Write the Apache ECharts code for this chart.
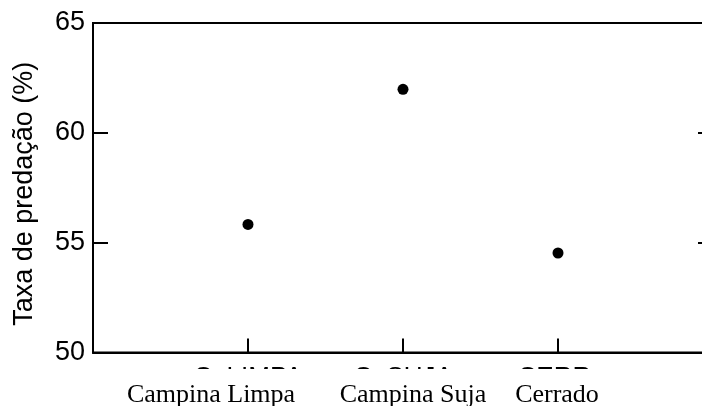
<!DOCTYPE html>
<html>
<head>
<meta charset="utf-8">
<script src="https://cdn.jsdelivr.net/npm/echarts@6/dist/echarts.min.js"></script>
<style>
  html, body { margin: 0; padding: 0; background: #fff; }
  #chart { width: 702px; height: 406px; }
</style>
</head>
<body>
<div id="chart"></div>
<script>
// Habitat categories and their x positions on the value axis
const categories = ['Campina Limpa', 'Campina Suja', 'Cerrado'];
const shortLabels = ['C. LIMPA', 'C. SUJA', 'CERR.'];
const categoryPos = [1, 2, 3];
// Predation rate (%) per habitat
const predationRate = [55.83, 61.98, 54.53];
// Y axis ticks
const yTicks = [50, 55, 60, 65];

const chart = echarts.init(document.getElementById('chart'), null, { renderer: 'canvas' });

const points = categoryPos.map((x, i) => [x, predationRate[i]]);

const tickLabel = v => {
  const i = categoryPos.indexOf(v);
  return i >= 0 ? shortLabels[i] : '';
};

const SANS = '"Liberation Sans", Arial, sans-serif';

const option = {
  animation: false,
  backgroundColor: '#ffffff',
  grid: {
    left: 93, top: 23, right: -11, bottom: 53.5,
    outerBoundsMode: 'none',
    show: true, borderColor: '#000', borderWidth: 2
  },
  xAxis: {
    type: 'value', min: 0, max: 4, interval: 1,
    axisLine: { show: true, lineStyle: { color: '#000', width: 2 } },
    axisTick: { show: true, inside: true, length: 14, lineStyle: { color: '#000', width: 2 } },
    axisLabel: {
      formatter: tickLabel, color: '#000', margin: 12,
      fontFamily: SANS, fontSize: 26
    },
    splitLine: { show: false }
  },
  yAxis: [
    {
      type: 'value', min: yTicks[0], max: yTicks[yTicks.length - 1], interval: 5,
      name: 'Taxa de predação (%)', nameLocation: 'middle', nameGap: 55,
      nameTextStyle: { color: '#000', fontFamily: SANS, fontSize: 27, padding: [0, 12, 0, 0] },
      axisLine: { show: true, lineStyle: { color: '#000', width: 2 } },
      axisTick: { show: true, inside: true, length: 15, lineStyle: { color: '#000', width: 2 } },
      axisLabel: { color: '#000', margin: 8, fontFamily: SANS, fontSize: 27 },
      splitLine: { show: false }
    },
    {
      type: 'value', position: 'right', min: yTicks[0], max: yTicks[yTicks.length - 1], interval: 5,
      axisLine: { show: true, lineStyle: { color: '#000', width: 2 } },
      axisTick: { show: true, inside: true, length: 15, lineStyle: { color: '#000', width: 2 } },
      axisLabel: { show: false },
      splitLine: { show: false }
    }
  ],
  series: [{
    type: 'scatter',
    data: points,
    symbol: 'circle',
    symbolSize: 11,
    itemStyle: { color: '#000', opacity: 1 }
  }]
};

chart.setOption(option);

// Paper strip over the lower part of the short tick labels, with full habitat names on it
const stripTop = 369;
const graphics = [{
  type: 'rect', z: 100,
  shape: { x: 0, y: stripTop, width: 702, height: 406 - stripTop },
  style: { fill: '#ffffff' }
}];
const nameCenters = [211, 413, 557];
categories.forEach((name, i) => {
  graphics.push({
    type: 'text', z: 101,
    x: nameCenters[i], y: 395,
    style: {
      text: name, fill: '#000',
      font: '26px "Liberation Serif", "Times New Roman", serif',
      align: 'center', verticalAlign: 'middle'
    }
  });
});
chart.setOption({ graphic: graphics });
</script>
</body>
</html>
